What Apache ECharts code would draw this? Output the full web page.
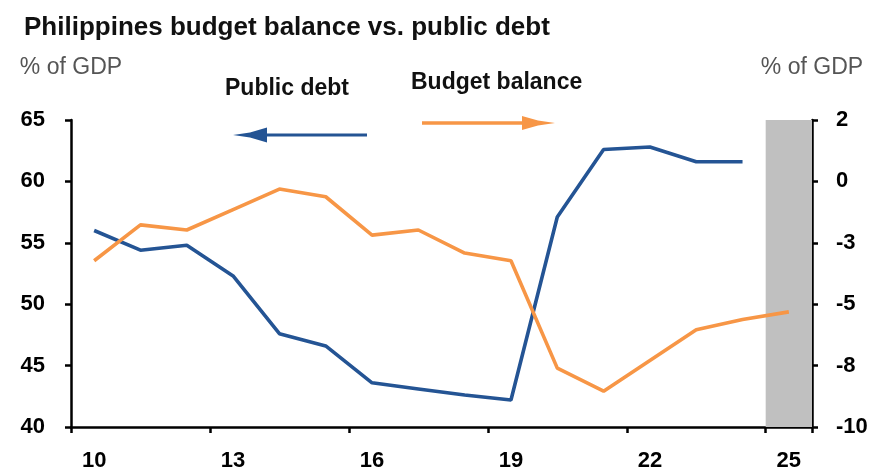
<!DOCTYPE html>
<html>
<head>
<meta charset="utf-8">
<script src="https://cdn.jsdelivr.net/npm/echarts@6/dist/echarts.min.js"></script>
<style>html,body{margin:0;padding:0;background:#fff}#c{width:888px;height:475px}</style>
</head>
<body>
<div id="c"></div>
<script>
var years = ['10','11','12','13','14','15','16','17','18','19','20','21','22','23','24','25'];
var publicDebt = [56.0, 54.4, 54.8, 52.3, 47.6, 46.6, 43.6, 43.1, 42.6, 42.2, 57.1, 62.6, 62.8, 61.6, 61.6, null];
var budgetBalance = [-3.5, -2.1, -2.3, -1.5, -0.7, -1.0, -2.5, -2.3, -3.2, -3.5, -7.7, -8.6, -7.4, -6.2, -5.8, -5.5];
var forecastShade = [null, null, null, null, null, null, null, null, null, null, null, null, null, null, null, 65];
var leftTicks = [40, 45, 50, 55, 60, 65];
var rightTicks = [-10, 2];

var FONT = '"Liberation Sans", Arial, sans-serif';
var chart = echarts.init(document.getElementById('c'), null, {renderer: 'canvas'});
var axisLineStyle = {color: '#000', width: 2.5};
var tickLabel = {color: '#000', fontFamily: FONT, fontWeight: 'bold', fontSize: 22};

chart.setOption({
  animation: false,
  backgroundColor: '#fff',
  title: {
    text: 'Philippines budget balance vs. public debt',
    left: 19, top: 10,
    textStyle: {fontFamily: FONT, fontWeight: 'bold', fontSize: 26, color: '#111'}
  },
  grid: {left: 71, right: 76, top: 120, bottom: 48, containLabel: false},
  xAxis: {
    type: 'category', data: years, boundaryGap: true,
    axisLine: {onZero: false, lineStyle: axisLineStyle},
    axisTick: {show: true, interval: 2, length: 6, lineStyle: {color: '#000', width: 2.5}},
    axisLabel: Object.assign({interval: 2, margin: 23}, tickLabel),
    splitLine: {show: false}
  },
  yAxis: [{
    type: 'value', min: leftTicks[0], max: leftTicks[leftTicks.length - 1], interval: 5,
    name: '% of GDP', nameLocation: 'end', nameGap: 41,
    nameTextStyle: {fontFamily: FONT, fontSize: 23, color: '#555', align: 'center'},
    axisLine: {show: true, onZero: false, lineStyle: axisLineStyle},
    axisTick: {show: true, length: 6, lineStyle: {color: '#000', width: 2.5}},
    axisLabel: Object.assign({margin: 26}, tickLabel),
    splitLine: {show: false}
  }, {
    type: 'value', min: rightTicks[0], max: rightTicks[1], interval: 2.4, position: 'right',
    name: '% of GDP', nameLocation: 'end', nameGap: 41,
    nameTextStyle: {fontFamily: FONT, fontSize: 23, color: '#555', align: 'center'},
    axisLine: {show: true, onZero: false, lineStyle: axisLineStyle},
    axisTick: {show: true, length: 6, lineStyle: {color: '#000', width: 2.5}},
    axisLabel: Object.assign({margin: 24, formatter: function (v) { var r = Math.round(v); return String(r === 0 ? 0 : r); }}, tickLabel),
    splitLine: {show: false}
  }],
  series: [{
    name: 'Forecast', type: 'bar', data: forecastShade, yAxisIndex: 0,
    barWidth: '100%', silent: true, z: 1,
    itemStyle: {color: '#c0c0c0'}
  }, {
    name: 'Public debt', type: 'line', data: publicDebt, yAxisIndex: 0,
    symbol: 'none', z: 3,
    lineStyle: {color: '#245494', width: 3.6}
  }, {
    name: 'Budget balance', type: 'line', data: budgetBalance, yAxisIndex: 1,
    symbol: 'none', z: 3,
    lineStyle: {color: '#f79646', width: 3.6}
  }],
  graphic: [
    {type: 'text', left: 225, top: 77, style: {text: 'Public debt', fontFamily: FONT, fontWeight: 'bold', fontSize: 23, fill: '#111'}},
    {type: 'text', left: 411, top: 71, style: {text: 'Budget balance', fontFamily: FONT, fontWeight: 'bold', fontSize: 23, fill: '#111'}},
    {type: 'polyline', shape: {points: [[367, 135], [262, 135]]}, style: {stroke: '#245494', lineWidth: 3}},
    {type: 'polygon', shape: {points: [[233, 135], [250, 132.5], [267, 127.5], [267, 142.5], [250, 137.5]]}, style: {fill: '#245494'}},
    {type: 'polyline', shape: {points: [[422, 123], [526, 123]]}, style: {stroke: '#f79646', lineWidth: 3.5}},
    {type: 'polygon', shape: {points: [[522, 116], [538, 120.5], [555, 123], [538, 125.5], [522, 130]]}, style: {fill: '#f79646'}}
  ]
});
</script>
</body>
</html>
